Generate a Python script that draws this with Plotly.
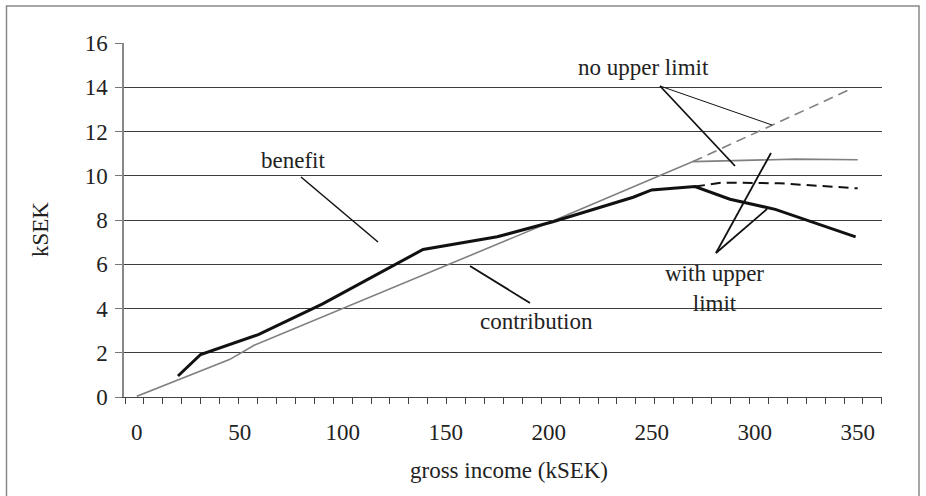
import plotly.graph_objects as go

# ---- data (kSEK) ----
income_contrib = [0, 45, 57, 137, 202, 250, 270, 320, 350]
contribution = [0.03, 1.69, 2.34, 5.43, 7.95, 9.85, 10.64, 10.75, 10.72]

income_contrib_nolimit = [270, 308, 345]
contribution_nolimit = [10.64, 12.26, 13.85]

income_benefit = [20, 31, 59, 90, 139, 175, 202, 241, 250, 271, 288, 310, 349]
benefit = [0.95, 1.92, 2.82, 4.2, 6.67, 7.24, 7.92, 9.03, 9.36, 9.51, 8.94, 8.48, 7.24]

income_benefit_nolimit = [271, 284, 312, 350]
benefit_nolimit = [9.51, 9.69, 9.66, 9.43]

x_ticks = [0, 50, 100, 150, 200, 250, 300, 350]
y_ticks = [0, 2, 4, 6, 8, 10, 12, 14, 16]

FONT = "Liberation Serif, 'Times New Roman', Times, 'DejaVu Serif', serif"
FS = 23

# plot-area geometry (pixels) used only for placing annotations/decoration
L, T, W, H = 124, 43, 758, 354
def px(x):
    return (x - L) / W
def py(y):
    return (T + H - y) / H

fig = go.Figure()
fig.add_trace(go.Scatter(x=income_contrib_nolimit, y=contribution_nolimit, mode="lines",
                         line=dict(color="#808080", width=1.6, dash="10px,6px")))
fig.add_trace(go.Scatter(x=income_contrib, y=contribution, mode="lines",
                         line=dict(color="#808080", width=1.6)))
fig.add_trace(go.Scatter(x=income_benefit_nolimit, y=benefit_nolimit, mode="lines",
                         line=dict(color="#111111", width=2, dash="10px,6px")))
fig.add_trace(go.Scatter(x=income_benefit, y=benefit, mode="lines",
                         line=dict(color="#111111", width=3)))

shapes = []
def seg(x0, y0, x1, y1, w=1.5):
    shapes.append(dict(type="line", xref="paper", yref="paper",
                       x0=px(x0), y0=py(y0), x1=px(x1), y1=py(y1),
                       line=dict(color="#111111", width=w)))

# leader lines
seg(660, 86, 772, 125, 1)
seg(660, 86, 735, 166, 1.8)
seg(716, 253, 771, 153, 1.8)
seg(716, 253, 767, 209, 1.8)
seg(301, 177, 378, 242, 1.5)
seg(470, 266, 530, 303, 1.8)

# outer frame
shapes.append(dict(type="rect", xref="paper", yref="paper",
                   x0=px(6.5), y0=py(6), x1=px(919), y1=py(499),
                   line=dict(color="#888888", width=1.5), fillcolor="rgba(0,0,0,0)",
                   layer="below"))

annots = []
def txt(s, x, y, angle=0):
    annots.append(dict(text=s, xref="paper", yref="paper", x=px(x), y=py(y),
                       showarrow=False, xanchor="center", yanchor="middle", align="center",
                       textangle=angle, font=dict(family=FONT, size=FS, color="#222222")))

txt("no upper limit", 643, 68)
txt("benefit", 293, 160)
txt("contribution", 536, 321)
txt("with upper<br>limit", 714, 288)
txt("kSEK", 40, 230, -90)
txt("gross income (kSEK)", 509, 470)

fig.update_layout(
    width=926, height=496,
    margin=dict(l=L, r=926 - L - W, t=T, b=496 - T - H),
    paper_bgcolor="white", plot_bgcolor="white",
    showlegend=False,
    shapes=shapes, annotations=annots,
    font=dict(family=FONT, size=FS, color="#222222"),
    xaxis=dict(range=[-6.2, 361.8], tickvals=x_ticks, ticktext=[str(v) for v in x_ticks],
               ticks="", showgrid=False, zeroline=False,
               showline=True, linecolor="#444444", linewidth=1.2,
               ticklabelstandoff=14,
               minor=dict(ticks="outside", ticklen=6, tick0=-5.68, dtick=9.185,
                          tickcolor="#444444", tickwidth=1, showgrid=False)),
    yaxis=dict(range=[0, 16], tickvals=y_ticks, ticks="outside", ticklen=7,
               tickcolor="#777777", showgrid=True, gridcolor="#3c3c3c", gridwidth=1,
               zeroline=False, showline=True, linecolor="#888888", linewidth=1.5,
               ticklabelstandoff=3),
)

fig.write_html("out.html", config={"displayModeBar": False},
               post_script="document.body.style.margin='0px';document.body.style.overflow='hidden';")
